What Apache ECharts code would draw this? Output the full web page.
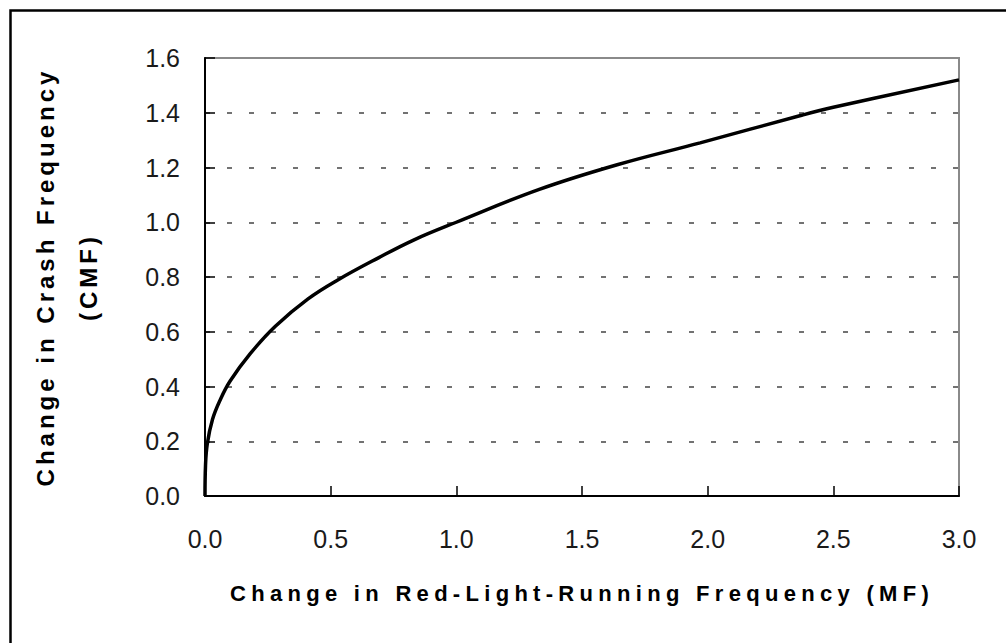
<!DOCTYPE html>
<html>
<head>
<meta charset="utf-8">
<script src="https://cdn.jsdelivr.net/npm/echarts@6/dist/echarts.min.js"></script>
<style>
  html, body { margin: 0; padding: 0; background: #fff; }
  #chart { width: 1006px; height: 643px; }
  /* axis titles are letter-spaced in the original */
  #chart text[style*="22px"] { letter-spacing: 5.3px; }
  #chart text[style*="24px"] { letter-spacing: 4px; }
</style>
</head>
<body>
<div id="chart"></div>
<script>
// change in red-light-running frequency (MF)
const mfValues = [0, 0.002, 0.009, 0.03, 0.06, 0.1, 0.18, 0.28, 0.41, 0.53, 0.69, 0.83, 1.0, 1.33, 1.64, 1.97, 2.37, 2.5, 3.0]
// change in crash frequency (CMF)
const cmfValues = [0, 0.11, 0.19, 0.28, 0.35, 0.42, 0.52, 0.62, 0.72, 0.79, 0.87, 0.935, 1.0, 1.12, 1.21, 1.29, 1.39, 1.42, 1.52]

const xTitle = 'Change in Red-Light-Running Frequency (MF)'
const yTitle = 'Change in Crash Frequency\n(CMF)'

const fontFamily = '"Liberation Sans", Arial, sans-serif'
const labelColor = '#1a1a1a'

const curve = mfValues.map((x, i) => [x, cmfValues[i]])

const chartInst = echarts.init(document.getElementById('chart'), null, {renderer: 'svg'})

chartInst.setOption({
  animation: false,
  backgroundColor: '#fff',
  graphic: [{
    type: 'rect',
    left: 8,
    top: 8,
    shape: {width: 1100, height: 700},
    style: {fill: 'none', stroke: '#000', lineWidth: 2.5},
    silent: true
  }],
  grid: {
    left: 205,
    right: 47,
    top: 58,
    bottom: 147,
    show: true,
    borderColor: '#8a8a8a',
    borderWidth: 2,
    outerBoundsMode: 'none'
  },
  xAxis: {
    type: 'value',
    min: 0,
    max: 3,
    interval: 0.5,
    name: xTitle,
    nameLocation: 'middle',
    nameGap: 86,
    nameTextStyle: {fontSize: 22, fontWeight: 'bold', color: '#000', fontFamily},
    axisLine: {show: true, lineStyle: {color: '#000', width: 2}},
    axisTick: {show: true, inside: true, length: 10, lineStyle: {color: '#000', width: 1.5}},
    axisLabel: {
      fontSize: 25,
      color: labelColor,
      fontFamily,
      margin: 30,
      formatter: v => v.toFixed(1)
    },
    splitLine: {show: false}
  },
  yAxis: {
    type: 'value',
    min: 0,
    max: 1.6,
    interval: 0.2,
    name: yTitle,
    nameLocation: 'middle',
    nameRotate: 90,
    nameGap: 95,
    nameTextStyle: {fontSize: 24, fontWeight: 'bold', color: '#000', fontFamily, lineHeight: 43},
    axisLine: {show: true, lineStyle: {color: '#000', width: 2}},
    axisTick: {show: true, inside: true, length: 10, lineStyle: {color: '#000', width: 1.5}},
    axisLabel: {
      fontSize: 25,
      color: labelColor,
      fontFamily,
      margin: 25,
      formatter: v => v.toFixed(1)
    },
    splitLine: {
      show: true,
      showMinLine: false,
      showMaxLine: false,
      lineStyle: {color: '#444', width: 1.5, type: [5, 17]}
    }
  },
  series: [{
    type: 'line',
    data: curve,
    showSymbol: false,
    smooth: 0.4,
    lineStyle: {color: '#000', width: 3.5},
    z: 5
  }]
})
</script>
</body>
</html>
